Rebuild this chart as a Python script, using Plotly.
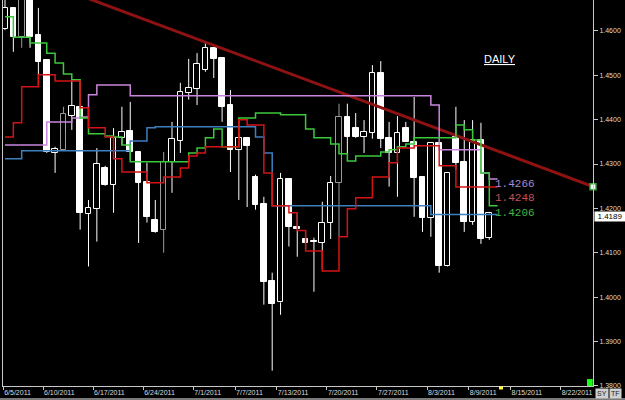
import plotly.graph_objects as go
import pandas as pd

# ---------------- data ----------------
# trading calendar (forex: Sunday bars, no Saturday)
calendar = [d for d in pd.date_range("2011-06-05", "2011-08-27") if d.weekday() != 5]
N_BARS = 59

opens = [1.4605, 1.4652, 1.4586, 1.4681, 1.4591, 1.4535, 1.4325, 1.4332, 1.4409, 1.4429,
         1.4188, 1.4199, 1.4291, 1.4253, 1.4359, 1.4375, 1.4327, 1.4260, 1.4174, 1.4152,
         1.4305, 1.4352, 1.4460, 1.4469, 1.4512, 1.4562, 1.4539, 1.4433, 1.4332, 1.4359,
         1.4271, 1.4210, 1.4037, 1.3988, 1.4267, 1.4159, 1.4131, 1.4127, 1.4122, 1.4167,
         1.4258, 1.4406, 1.4382, 1.4361, 1.4370, 1.4505, 1.4359, 1.4325, 1.4382, 1.4350,
         1.4271, 1.4179, 1.4348, 1.4071, 1.4361, 1.4305, 1.4170, 1.4354, 1.4134]
highs = [1.4677, 1.4654, 1.4681, 1.4683, 1.4652, 1.4535, 1.4339, 1.4429, 1.4490, 1.4429,
         1.4219, 1.4336, 1.4296, 1.4381, 1.4429, 1.4440, 1.4327, 1.4303, 1.4219, 1.4327,
         1.4395, 1.4483, 1.4537, 1.4550, 1.4575, 1.4564, 1.4539, 1.4467, 1.4366, 1.4361,
         1.4276, 1.4226, 1.4055, 1.4280, 1.4267, 1.4190, 1.4149, 1.4134, 1.4215, 1.4273,
         1.4436, 1.4436, 1.4415, 1.4399, 1.4523, 1.4532, 1.4395, 1.4408, 1.4395, 1.4451,
         1.4271, 1.4348, 1.4348, 1.4280, 1.4429, 1.4399, 1.4399, 1.4393, 1.4192]
lows = [1.4602, 1.4553, 1.4562, 1.4562, 1.4474, 1.4325, 1.4280, 1.4332, 1.4377, 1.4152,
        1.4069, 1.4125, 1.4251, 1.4190, 1.4343, 1.4309, 1.4122, 1.4168, 1.4145, 1.4100,
        1.4235, 1.4325, 1.4445, 1.4433, 1.4508, 1.4494, 1.4395, 1.4282, 1.4219, 1.4203,
        1.4197, 1.3983, 1.3834, 1.3960, 1.4114, 1.4091, 1.4107, 1.4012, 1.4062, 1.4131,
        1.4136, 1.4321, 1.4359, 1.4325, 1.4357, 1.4336, 1.4249, 1.4226, 1.4350, 1.4181,
        1.4147, 1.4136, 1.4055, 1.4069, 1.4287, 1.4147, 1.4163, 1.4120, 1.4129]
closes = [1.4652, 1.4586, 1.4677, 1.4586, 1.4530, 1.4327, 1.4334, 1.4413, 1.4431, 1.4190,
          1.4201, 1.4300, 1.4253, 1.4359, 1.4372, 1.4327, 1.4258, 1.4181, 1.4147, 1.4305,
          1.4357, 1.4463, 1.4472, 1.4526, 1.4562, 1.4537, 1.4429, 1.4332, 1.4359, 1.4341,
          1.4208, 1.4035, 1.3985, 1.4267, 1.4159, 1.4154, 1.4122, 1.4125, 1.4167, 1.4258,
          1.4406, 1.4361, 1.4361, 1.4372, 1.4505, 1.4357, 1.4325, 1.4370, 1.4350, 1.4269,
          1.4179, 1.4348, 1.4071, 1.4280, 1.4303, 1.4170, 1.4354, 1.4131, 1.4189]
grey_bars = [2, 7, 19, 40]

# step indicator lines (60 values: one per bar + a stub for the price label)
red_line = [1.4361, 1.4393, 1.4474, 1.4474, 1.4501, 1.4501, 1.4487, 1.4487, 1.4487, 1.4427,
            1.4382, 1.4382, 1.4361, 1.4312, 1.4282, 1.4282, 1.4282, 1.4258, 1.4258, 1.4271,
            1.4271, 1.4291, 1.4318, 1.4325, 1.4339, 1.4339, 1.4339, 1.4339, 1.4400, 1.4388,
            1.4388, 1.4280, 1.4206, 1.4206, 1.4190, 1.4150, 1.4104, 1.4104, 1.4059, 1.4059,
            1.4136, 1.4199, 1.4224, 1.4224, 1.4271, 1.4271, 1.4303, 1.4336, 1.4336, 1.4341,
            1.4341, 1.4341, 1.4296, 1.4296, 1.4248, 1.4248, 1.4248, 1.4248, 1.4248, 1.4248]
green_line = [1.4632, 1.4586, 1.4586, 1.4573, 1.4573, 1.4550, 1.4528, 1.4503, 1.4490, 1.4404,
              1.4368, 1.4368, 1.4363, 1.4361, 1.4343, 1.4305, 1.4305, 1.4305, 1.4305, 1.4305,
              1.4305, 1.4305, 1.4325, 1.4336, 1.4359, 1.4379, 1.4339, 1.4339, 1.4404, 1.4404,
              1.4415, 1.4415, 1.4415, 1.4411, 1.4411, 1.4411, 1.4379, 1.4359, 1.4359, 1.4345,
              1.4323, 1.4307, 1.4318, 1.4318, 1.4318, 1.4327, 1.4332, 1.4339, 1.4345, 1.4359,
              1.4359, 1.4359, 1.4359, 1.4359, 1.4388, 1.4377, 1.4354, 1.4280, 1.4206, 1.4206]
blue_line = [1.4312, 1.4312, 1.4330, 1.4330, 1.4330, 1.4330, 1.4330, 1.4330, 1.4330, 1.4330,
             1.4330, 1.4330, 1.4330, 1.4330, 1.4330, 1.4352, 1.4352, 1.4382, 1.4384, 1.4384,
             1.4384, 1.4384, 1.4384, 1.4384, 1.4384, 1.4384, 1.4384, 1.4384, 1.4384, 1.4384,
             1.4361, 1.4325, 1.4206, 1.4206, 1.4206, 1.4206, 1.4206, 1.4206, 1.4206, 1.4206,
             1.4206, 1.4206, 1.4206, 1.4206, 1.4206, 1.4206, 1.4206, 1.4206, 1.4206, 1.4206,
             1.4206, 1.4186, 1.4186, 1.4186, 1.4186, 1.4186, 1.4186, 1.4186, 1.4186, 1.4186]
violet_line = [1.4343, 1.4343, 1.4343, 1.4343, 1.4343, 1.4395, 1.4395, 1.4395, 1.4404, 1.4406,
               1.4456, 1.4478, 1.4478, 1.4478, 1.4478, 1.4454, 1.4454, 1.4454, 1.4454, 1.4454,
               1.4454, 1.4454, 1.4454, 1.4454, 1.4454, 1.4454, 1.4454, 1.4454, 1.4454, 1.4454,
               1.4454, 1.4454, 1.4454, 1.4454, 1.4454, 1.4454, 1.4454, 1.4454, 1.4454, 1.4454,
               1.4454, 1.4454, 1.4454, 1.4454, 1.4454, 1.4454, 1.4454, 1.4454, 1.4454, 1.4454,
               1.4454, 1.4433, 1.4332, 1.4332, 1.4332, 1.4332, 1.4332, 1.4280, 1.4266, 1.4266]

# falling trend line (bar index, price)
trend_idx = [10.0, 70.42]
trend_val = [1.4673, 1.4249]

line_labels = ["1.4266", "1.4248", "1.4206"]
last_price = 1.4189

tick_dates = ["2011-06-05", "2011-06-10", "2011-06-17", "2011-06-24", "2011-07-01",
              "2011-07-07", "2011-07-13", "2011-07-20", "2011-07-27", "2011-08-03",
              "2011-08-09", "2011-08-15", "2011-08-22"]
tick_text = ["6/5/2011", "6/10/2011", "6/17/2011", "6/24/2011", "7/1/2011", "7/7/2011",
             "7/13/2011", "7/20/2011", "7/27/2011", "8/3/2011", "8/9/2011", "8/15/2011",
             "8/22/2011"]
y_ticks = [1.38, 1.39, 1.40, 1.41, 1.42, 1.43, 1.44, 1.45, 1.46]

# ---------------- figure ----------------
X_MIN, X_MAX = -0.24, 70.42
idx = list(range(N_BARS))
fig = go.Figure()

groups = {"up": ([], "black", "white"), "down": ([], "white", "white"),
          "grey": ([], "black", "#9a9a9a")}
for i in idx:
    if i in grey_bars:
        groups["grey"][0].append(i)
    elif closes[i] >= opens[i]:
        groups["up"][0].append(i)
    else:
        groups["down"][0].append(i)

for name, (members, fill, edge) in groups.items():
    base = [min(opens[i], closes[i]) for i in members]
    height = [max(abs(closes[i] - opens[i]), 0.00008) for i in members]
    fig.add_trace(go.Bar(x=members, y=height, base=base, width=0.68,
                         marker=dict(color=fill, line=dict(color=edge, width=1)),
                         hoverinfo="skip"))
    wx, wy = [], []
    for i in members:
        top = max(opens[i], closes[i])
        bot = min(opens[i], closes[i])
        wx += [i, i, None, i, i, None]
        wy += [highs[i], top, None, bot, lows[i], None]
    fig.add_trace(go.Scatter(x=wx, y=wy, mode="lines",
                             line=dict(color=edge, width=1), hoverinfo="skip"))

# trend line
fig.add_trace(go.Scatter(x=trend_idx, y=trend_val, mode="lines",
                         line=dict(color="#8e1212", width=3), hoverinfo="skip"))

line_x = list(range(N_BARS + 1))
for vals, col in [(blue_line, "#3f7fc0"), (violet_line, "#c985dc"),
                  (green_line, "#3cc83c"), (red_line, "#d41414")]:
    fig.add_trace(go.Scatter(x=line_x, y=vals, mode="lines",
                             line=dict(color=col, width=1.5, shape="hv"),
                             hoverinfo="skip"))

# markers on the price axis
fig.add_trace(go.Scatter(x=[trend_idx[1], 70.05], y=[trend_val[1], 1.4670], mode="markers",
                         marker=dict(symbol="square", size=6, color="white",
                                     line=dict(color="#3aa03a", width=1.5)),
                         cliponaxis=False, hoverinfo="skip"))

# line value labels
label_vals = [violet_line[-1], red_line[-1], green_line[-1]]
label_cols = ["#a88ad0", "#c4505a", "#46b446"]
label_shift = [-5, -11, -7]
for txt, v, c, s in zip(line_labels, label_vals, label_cols, label_shift):
    fig.add_annotation(x=58.45, y=v, text=txt, showarrow=False, xanchor="left",
                       yanchor="middle", yshift=s,
                       font=dict(family="Liberation Mono", size=11, color=c))

# last price box
fig.add_annotation(xref="paper", x=1.0017, y=last_price, text=f"{last_price:.4f}",
                   showarrow=False, xanchor="left", yanchor="middle", yshift=-3,
                   bgcolor="white", borderpad=0, width=30, height=9,
                   font=dict(family="Liberation Sans", size=8, color="black"))

# DAILY title
fig.add_annotation(xref="paper", yref="paper", x=0.842, y=0.847, text="<u>DAILY</u>",
                   showarrow=False, xanchor="center", yanchor="middle",
                   font=dict(family="Liberation Sans", size=11, color="white"))

# SY / TF buttons
for txt, xp in [("SY", 1.0035), ("TF", 1.0275)]:
    fig.add_annotation(xref="paper", yref="paper", x=xp, y=-0.0335, text=txt,
                       showarrow=False, xanchor="left", yanchor="bottom",
                       bgcolor="#d0d0d0", borderpad=1,
                       font=dict(family="Liberation Sans", size=7, color="#202020"))

# decorative squares
fig.add_shape(type="rect", xref="paper", yref="paper", x0=0.9898, x1=0.9995,
              y0=0.0, y1=0.018, fillcolor="#18ff18", line=dict(width=0))
fig.add_shape(type="rect", xref="paper", yref="paper", x0=0.8407, x1=0.8475,
              y0=-0.009, y1=-0.001, fillcolor="#ffff40", line=dict(width=0))
fig.add_shape(type="line", xref="paper", yref="paper", x0=-0.006, x1=1.06,
              y0=-0.034, y1=-0.034, line=dict(color="#7a7a7a", width=2))

tick_pos = [max(calendar.index(pd.Timestamp(d)) - 0.45, X_MIN + 0.02) for d in tick_dates]

fig.update_layout(width=625, height=400,
                  margin=dict(l=3, r=32, t=0, b=14, pad=0),
                  paper_bgcolor="black", plot_bgcolor="black",
                  showlegend=False, barmode="overlay", bargap=0)
fig.update_xaxes(range=[X_MIN, X_MAX], tickmode="array", tickvals=tick_pos,
                 ticktext=tick_text, ticks="outside", ticklen=3, tickcolor="#c8c8c8",
                 ticklabelposition="outside right",
                 tickfont=dict(family="Liberation Sans", size=7, color="#dcdcdc"),
                 showline=True, linecolor="#c8c8c8", linewidth=1,
                 showgrid=False, zeroline=False, automargin=False, fixedrange=True)
fig.update_yaxes(range=[1.37995, 1.46698], side="right", tickmode="array",
                 tickvals=y_ticks, ticktext=[f"{v:.4f}" for v in y_ticks],
                 ticks="outside", ticklen=4, tickcolor="#c8c8c8",
                 tickfont=dict(family="Liberation Sans", size=7, color="#dcdcdc"),
                 showline=True, mirror=True, linecolor="#c8c8c8", linewidth=1,
                 showgrid=False, zeroline=False, automargin=False, fixedrange=True)

fig.write_html("out.html")
